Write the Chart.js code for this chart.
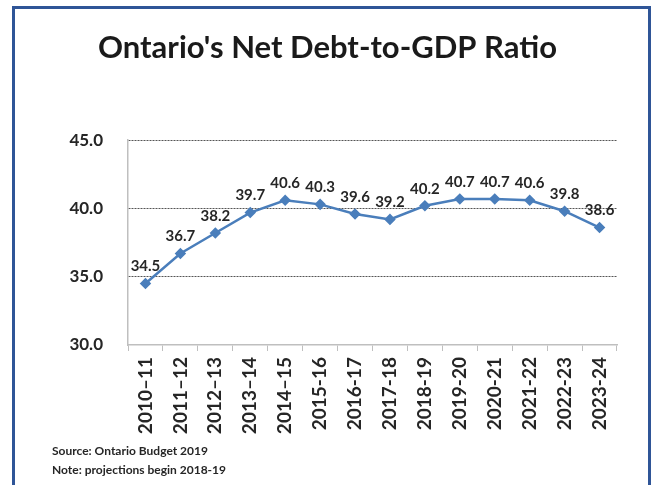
<!DOCTYPE html>
<html>
<head>
<meta charset="utf-8">
<script src="https://cdn.jsdelivr.net/npm/chart.js@4"></script>
<style>
  body { margin: 0; background: #fff; overflow: hidden; }
  #frame {
    position: absolute; left: 12px; top: 6px; width: 639px; height: 520px;
    border: 3px solid #2F5597; box-sizing: border-box;
  }
  #wrap { position: absolute; left: 0; top: 0; width: 655px; height: 485px; }
  #notes {
    position: absolute; left: 52px; top: 441px;
    font: bold 12px Lato, sans-serif; line-height: 19px; color: #262626;
  }
</style>
</head>
<body>
<div id="frame"></div>
<div id="wrap"><canvas id="debtChart"></canvas></div>
<div id="notes">Source: Ontario Budget 2019<br>Note: projections begin 2018-19</div>
<script>
const fiscalYears = ['2010\u201311', '2011\u201312', '2012\u201313', '2013\u201314', '2014\u201315',
  '2015-16', '2016-17', '2017-18', '2018-19', '2019-20', '2020-21', '2021-22', '2022-23', '2023-24'];
const debtRatio = [34.5, 36.7, 38.2, 39.7, 40.6, 40.3, 39.6, 39.2, 40.2, 40.7, 40.7, 40.6, 39.8, 38.6];
const yTicks = [30, 35, 40, 45];

const lineBlue = '#4A7EBB';
const textCol = '#262626';
const fontFam = 'Lato, sans-serif';

// value labels above each point
const pointLabels = {
  id: 'pointLabels',
  afterDatasetsDraw(chart) {
    const ctx = chart.ctx;
    const meta = chart.getDatasetMeta(0);
    ctx.save();
    ctx.font = 'bold 15px ' + fontFam;
    ctx.fillStyle = textCol;
    ctx.textAlign = 'center';
    ctx.textBaseline = 'middle';
    meta.data.forEach((pt, i) => {
      ctx.fillText(debtRatio[i].toFixed(1), pt.x, pt.y - 17);
    });
    ctx.restore();
  }
};

new Chart(document.getElementById('debtChart'), {
  type: 'line',
  data: {
    labels: fiscalYears,
    datasets: [{
      data: debtRatio,
      borderColor: lineBlue,
      backgroundColor: lineBlue,
      borderWidth: 2.5,
      pointStyle: 'rectRot',
      pointRadius: 4,
      pointBackgroundColor: lineBlue,
      pointBorderColor: lineBlue,
      tension: 0
    }]
  },
  options: {
    responsive: true,
    maintainAspectRatio: false,
    animation: false,
    layout: { padding: { left: 38, right: 38, top: 0, bottom: 0 } },
    plugins: {
      legend: { display: false },
      tooltip: { enabled: false },
      title: {
        display: true,
        text: "Ontario's Net Debt-to-GDP Ratio",
        color: '#1a1a1a',
        font: { family: fontFam, size: 31, weight: 'bold', lineHeight: 1.2 },
        padding: { top: 29, bottom: 74 }
      }
    },
    scales: {
      x: {
        offset: true,
        grid: { drawOnChartArea: false, offset: true, color: '#BFBFBF', tickLength: 6 },
        border: { color: '#BFBFBF', width: 1.5 },
        ticks: {
          minRotation: 90, maxRotation: 90, padding: 6, color: textCol,
          font: { family: fontFam, size: 19, weight: 'bold' }
        },
        afterFit: (scale) => { scale.height = 140; }
      },
      y: {
        min: 30, max: 45,
        afterBuildTicks: (scale) => { scale.ticks = yTicks.map(v => ({ value: v })); },
        grid: {
          drawTicks: false,
          color: (c) => (c.tick && c.tick.value === 30) ? 'rgba(0,0,0,0)' : '#555555',
          lineWidth: 1
        },
        border: { color: '#BFBFBF', width: 1.5, dash: [2, 1] },
        ticks: {
          padding: 25, color: textCol,
          font: { family: fontFam, size: 17, weight: 'bold' },
          callback: (v) => Number(v).toFixed(1)
        },
        afterFit: (scale) => { scale.width = 90; }
      }
    }
  },
  plugins: [pointLabels]
});
</script>
</body>
</html>
